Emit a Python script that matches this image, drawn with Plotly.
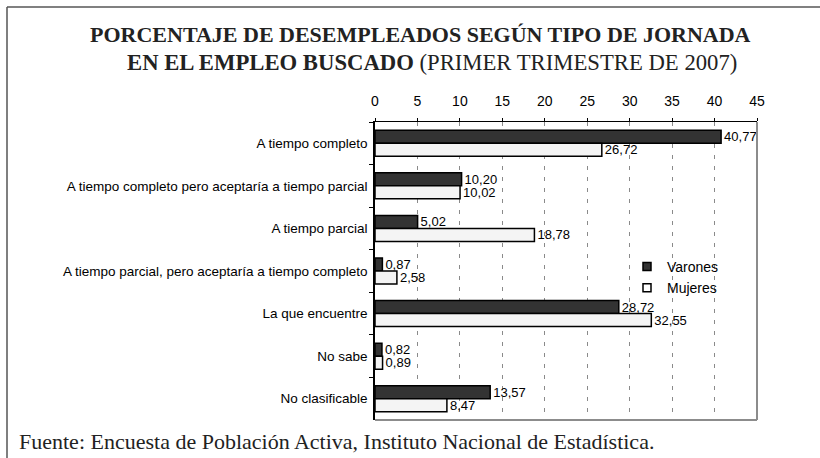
import plotly.graph_objects as go

categories = [
    "A tiempo completo",
    "A tiempo completo pero aceptaría a tiempo parcial",
    "A tiempo parcial",
    "A tiempo parcial, pero aceptaría a tiempo completo",
    "La que encuentre",
    "No sabe",
    "No clasificable",
]
varones = [40.77, 10.20, 5.02, 0.87, 28.72, 0.82, 13.57]
mujeres = [26.72, 10.02, 18.78, 2.58, 32.55, 0.89, 8.47]
x_ticks = [0, 5, 10, 15, 20, 25, 30, 35, 40, 45]

W, H = 820, 458
L, R, T, B = 375, 757, 122, 420  # plot area in pixels


def px(x):
    return (x - L) / (R - L)


def py(y):
    return (B - y) / (B - T)


DARK = "#333333"
LIGHT = "#f4f4f4"
SANS = "Liberation Sans, Arial"
SERIF = "Liberation Serif, Times New Roman"

fig = go.Figure()
fig.add_trace(go.Bar(
    y=categories, x=varones, orientation="h", name="Varones",
    marker=dict(color=DARK, line=dict(color="#000000", width=1.5)),
    texttemplate="%{x:.2f}", textposition="outside", constraintext="none",
    textfont=dict(family=SANS, size=13, color="#000"),
    cliponaxis=False, showlegend=False,
))
fig.add_trace(go.Bar(
    y=categories, x=mujeres, orientation="h", name="Mujeres",
    marker=dict(color=LIGHT, line=dict(color="#000000", width=1.5)),
    texttemplate="%{x:.2f}", textposition="outside", constraintext="none",
    textfont=dict(family=SANS, size=13, color="#000"),
    cliponaxis=False, showlegend=False,
))
# legend proxies (small square markers)
for name, col in [("Varones", DARK), ("Mujeres", "#ffffff")]:
    fig.add_trace(go.Scatter(
        x=[None], y=[None], mode="markers", name=name,
        marker=dict(symbol="square", size=8, color=col,
                    line=dict(color="#000", width=1.5)),
    ))

fig.update_layout(
    width=W, height=H,
    margin=dict(l=L, r=W - R, t=T, b=H - B, pad=0),
    paper_bgcolor="white", plot_bgcolor="white",
    separators=",.",
    barmode="group", bargap=0.39, bargroupgap=0,
    font=dict(family=SANS, color="#000"),
    showlegend=True,
    legend=dict(x=px(627), y=py(251), xanchor="left", yanchor="top",
                bgcolor="rgba(0,0,0,0)", font=dict(size=14, family=SANS),
                itemwidth=30, tracegroupgap=0),
    xaxis=dict(
        side="top", range=[0, 45], tickvals=x_ticks,
        ticktext=[str(v) for v in x_ticks],
        showline=True, linecolor="#000", linewidth=1,
        ticks="outside", ticklen=3, tickcolor="#000",
        tickfont=dict(family=SANS, size=14, color="#000"),
        ticklabelstandoff=6,
        showgrid=True, gridcolor="#8a8a8a", gridwidth=1, griddash="4px,7px",
        zeroline=False, fixedrange=True,
    ),
    yaxis=dict(
        autorange="reversed", type="category",
        showline=True, linecolor="#000", linewidth=1.5,
        ticks="outside", ticklen=4, tickcolor="#000", tickson="boundaries",
        tickfont=dict(size=13.5, color="#000"),
        showgrid=False, zeroline=False, fixedrange=True,
        ticklabelstandoff=3,
    ),
)

shapes = [
    # plot area right & bottom borders (gray)
    dict(type="line", xref="paper", yref="paper", x0=1, x1=1, y0=0, y1=1,
         line=dict(color="#8c8c8c", width=2)),
    dict(type="line", xref="paper", yref="paper", x0=0, x1=1, y0=0, y1=0,
         line=dict(color="#8c8c8c", width=2)),
    # outer frame: top and left
    dict(type="line", xref="paper", yref="paper", x0=px(7), x1=px(822), y0=py(7), y1=py(7),
         line=dict(color="#808080", width=2)),
    dict(type="line", xref="paper", yref="paper", x0=px(7), x1=px(7), y0=py(7), y1=py(462),
         line=dict(color="#555555", width=1.5)),
]
fig.update_layout(shapes=shapes)

annotations = [
    dict(text="<b>PORCENTAJE DE DESEMPLEADOS SEGÚN TIPO DE JORNADA</b>",
         x=px(420), y=py(34), xref="paper", yref="paper", xanchor="center", yanchor="middle",
         showarrow=False, font=dict(family=SERIF, size=22, color="#222")),
    dict(text="<b>EN EL EMPLEO BUSCADO</b> (PRIMER TRIMESTRE DE 2007)",
         x=px(432), y=py(63), xref="paper", yref="paper", xanchor="center", yanchor="middle",
         showarrow=False, font=dict(family=SERIF, size=22.7, color="#222")),
    dict(text="Fuente: Encuesta de Población Activa, Instituto Nacional de Estadística.",
         x=px(17), y=py(441), xref="paper", yref="paper", xanchor="left", yanchor="middle",
         showarrow=False, font=dict(family=SERIF, size=22, color="#222")),
]
fig.update_layout(annotations=annotations)

fig.write_html("out.html", config={"displayModeBar": False},
               post_script="document.body.style.margin='0px';")
